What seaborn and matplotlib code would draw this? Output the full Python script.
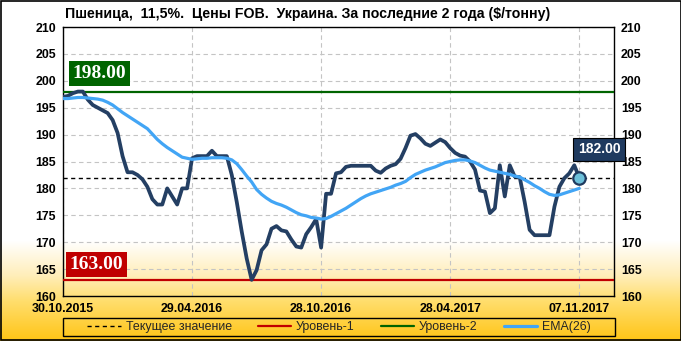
import numpy as np
import pandas as pd
import matplotlib
matplotlib.use("Agg")
import matplotlib.pyplot as plt
import seaborn as sns

# ---------------- data ----------------
title = "Пшеница,  11,5%.  Цены FOB.  Украина. За последние 2 года ($/тонну)"
tick_labels = ["30.10.2015", "29.04.2016", "28.10.2016", "28.04.2017", "07.11.2017"]
tick_index = [0, 26, 52, 78, 104]

price = [
    197.0, 197.2, 197.7, 198.0, 198.0, 196.5, 195.5, 195.0, 194.5, 194.0,
    192.7, 190.3, 186.0, 183.0, 183.0, 182.5, 181.7, 180.3, 178.0, 177.0,
    177.0, 180.0, 178.5, 177.0, 180.0, 180.0, 185.6, 186.0, 186.0, 186.0,
    187.0, 186.0, 186.0, 186.0, 182.5, 177.5, 172.0, 167.0, 163.0, 164.8,
    168.5, 169.6, 172.5, 173.0, 172.2, 172.0, 170.5, 169.2, 169.0, 171.5,
    172.8, 174.3, 169.0, 179.0, 179.0, 182.8, 183.0, 184.0, 184.2, 184.2,
    184.2, 184.2, 184.2, 183.3, 182.9, 183.7, 184.2, 184.5, 185.5, 187.5,
    189.8, 190.1, 189.3, 188.3, 187.9, 188.5, 189.1, 188.6, 187.5, 186.6,
    186.1, 185.9, 185.0, 183.5, 179.6, 179.4, 175.4, 176.3, 184.3, 178.5,
    184.3, 182.2, 182.1, 177.5, 172.3, 171.3, 171.3, 171.3, 171.3, 176.6,
    180.3, 181.9, 182.8, 184.3, 182.0,
]
ema26 = [
    196.7, 196.7, 196.8, 196.9, 196.9, 196.8, 196.7, 196.6, 196.4, 196.0,
    195.5, 194.8, 194.1, 193.5, 192.9, 192.3, 191.7, 191.1, 190.1, 189.1,
    188.3, 187.6, 187.0, 186.4, 185.8, 185.6, 185.4, 185.5, 185.6, 185.6,
    185.7, 185.7, 185.7, 185.6, 185.3, 184.6, 183.5, 182.3, 181.2, 179.8,
    178.9, 178.2, 177.6, 177.2, 176.9, 176.5, 176.0, 175.5, 175.1, 174.9,
    174.6, 174.5, 174.3, 174.4, 174.8, 175.3, 175.8, 176.3, 176.9, 177.5,
    178.1, 178.6, 179.0, 179.3, 179.6, 179.9, 180.2, 180.6, 180.9, 181.3,
    182.0, 182.6, 183.0, 183.4, 183.7, 184.0, 184.4, 184.8, 185.0, 185.2,
    185.3, 185.3, 185.1, 184.8, 184.3, 183.8, 183.4, 183.2, 183.0, 182.8,
    182.6, 182.3, 182.1, 181.6, 181.1, 180.5, 180.0, 179.4, 178.9, 178.7,
    178.8, 179.1, 179.4, 179.7, 180.0,
]
current_value = 182.0
level_1 = 163.0
level_2 = 198.0
legend_labels = ["Текущее значение", "Уровень-1", "Уровень-2", "EMA(26)"]

# ---------------- style ----------------
sns.set_theme(style="white")
plt.rcParams["font.family"] = ["Liberation Sans", "DejaVu Sans"]

W, H = 681, 341
fig = plt.figure(figsize=(W / 100, H / 100), dpi=100)

# background gradient (white -> yellow at the bottom)
bg = fig.add_axes([0, 0, 1, 1], zorder=-10)
rows = np.arange(H)
stops_y = [0, 240, 275, 300, 341]
r = np.interp(rows, stops_y, [255, 255, 255, 255, 255])
g = np.interp(rows, stops_y, [255, 255, 238, 222, 196])
b = np.interp(rows, stops_y, [255, 255, 185, 110, 20])
grad = np.stack([r, g, b], axis=1)[:, None, :] / 255.0
grad = np.repeat(grad, 2, axis=1)
bg.imshow(grad, aspect="auto", extent=[0, 1, 0, 1], origin="upper")
bg.set_axis_off()
bg.add_patch(plt.Rectangle((0.0008, 0.0015), 0.9985, 0.997, transform=bg.transAxes,
                           fill=False, edgecolor="black", lw=1.2))
# legend frame
bg.add_patch(plt.Rectangle((63 / W, 1 - 336 / H), (615 - 63) / W, 18 / H,
                           transform=bg.transAxes, fill=False, edgecolor="black", lw=1.0))

ax = fig.add_axes([63 / W, 1 - 296 / H, (614 - 63) / W, (296 - 27) / H])
ax.set_facecolor("none")

df = pd.DataFrame({"idx": np.arange(len(price)), "price": price, "ema": ema26})

# level lines
h_cur = ax.axhline(current_value, color="black", lw=1.0, ls=(0, (3, 2.5)), zorder=3,
                   label=legend_labels[0])
h_l1 = ax.axhline(level_1, color="#C00000", lw=1.6, zorder=3, label=legend_labels[1])
h_l2 = ax.axhline(level_2, color="#006400", lw=1.6, zorder=3, label=legend_labels[2])

sns.lineplot(data=df, x="idx", y="price", color="#243F63", lw=2.7, ax=ax, zorder=4,
             legend=False)
sns.lineplot(data=df, x="idx", y="ema", color="#42A5F5", lw=2.3, ax=ax, zorder=5,
             legend=False)
h_ema = ax.lines[-1]

last = df.iloc[[-1]]
sns.scatterplot(data=last, x="idx", y="price", s=80, color="#6CC0DA",
                edgecolor="#1F3A5F", linewidth=1.6, ax=ax, zorder=6, legend=False)

ax.set_xlim(0, 111)
ax.set_ylim(160, 210)
ax.set_yticks(np.arange(160, 211, 5))
ax.set_xticks(tick_index)
ax.set_xticklabels(tick_labels)
ax.set_xlabel("")
ax.set_ylabel("")
ax.grid(True, color="#C4C4C4", ls=(0, (4, 3)), lw=0.8)
ax.set_axisbelow(True)
for s in ax.spines.values():
    s.set_color("black")
    s.set_linewidth(1.0)
ax.tick_params(axis="both", length=0, labelsize=8.9, colors="black")
ax.tick_params(axis="y", pad=5, labelright=True)
ax.tick_params(axis="x", pad=5)
for lab in ax.get_xticklabels() + ax.get_yticklabels():
    lab.set_fontweight("bold")
for tick in ax.yaxis.get_major_ticks():
    tick.label2.set_fontweight("bold")
    tick.label2.set_fontsize(8.9)

# value boxes
ax.text(1.9, 201.3, f"{level_2:.2f}", color="white", fontsize=14, fontweight="bold",
        family=["Liberation Serif", "DejaVu Serif"], va="center", ha="left", zorder=7,
        bbox=dict(boxstyle="square,pad=0.2", fc="#006400", ec="none"))
ax.text(1.3, 165.9, f"{level_1:.2f}", color="white", fontsize=14, fontweight="bold",
        family=["Liberation Serif", "DejaVu Serif"], va="center", ha="left", zorder=7,
        bbox=dict(boxstyle="square,pad=0.2", fc="#C00000", ec="none"))
ax.text(108.0, 187.3, f"{price[-1]:.2f}", color="white", fontsize=10, fontweight="bold",
        va="center", ha="center", zorder=7, clip_on=False,
        bbox=dict(boxstyle="square,pad=0.32", fc="#1F3A5F", ec="black", lw=0.8))

fig.text(65 / W, 1 - 14 / H, title, fontsize=10.15, fontweight="bold", ha="left",
         va="center", color="black")

leg = fig.legend(handles=[h_cur, h_l1, h_l2, h_ema], labels=legend_labels,
                 loc="center", ncol=4,
                 bbox_to_anchor=((63 + 615) / 2 / W, 1 - 327 / H),
                 borderaxespad=0, frameon=False, fontsize=8.9,
                 handlelength=2.7, handletextpad=0.4, borderpad=0.2,
                 columnspacing=2.1)

fig.savefig("out.png", dpi=100)
